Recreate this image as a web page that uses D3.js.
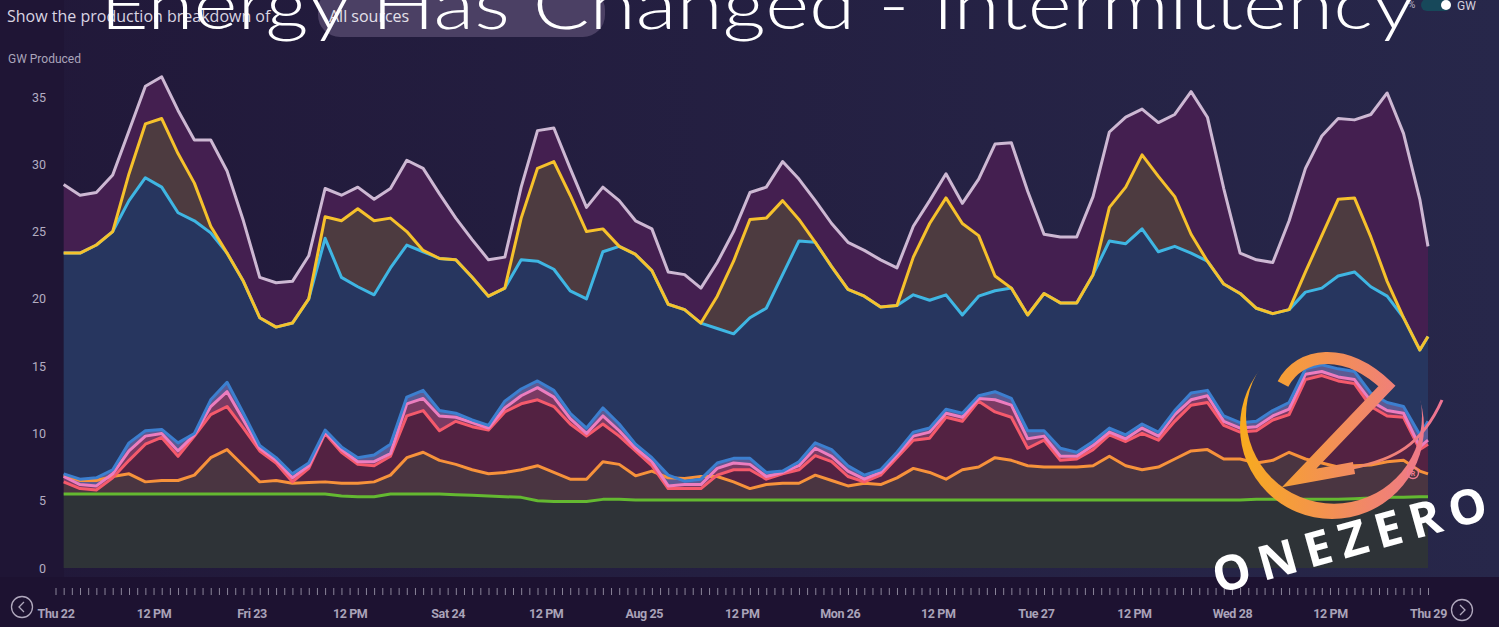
<!DOCTYPE html>
<html>
<head>
<meta charset="utf-8">
<title>Energy Has Changed - Intermittency</title>
<script src="https://d3js.org/d3.v7.min.js"></script>
<style>
  body { margin: 0; background: #1f1637; overflow: hidden; }
  svg { display: block; }
  .axis text { font-family: "Liberation Sans Narrow", "Roboto", sans-serif; font-weight: 700; }
  .axis path.domain { display: none; }
</style>
</head>
<body>
<svg width="1499" height="627"></svg>
<script>
var width = 1499, height = 627;

// hourly production, one reading every two hours from Thu 22 01:00, last point Thu 29 00:00
var start = new Date(2019, 7, 22, 0);
var end = new Date(2019, 7, 29, 0);
var hours = d3.range(1, 168, 2).concat([168]);

// stacked levels (GW), bottom to top
var levelGreen = [
  5.5, 5.5, 5.5, 5.5, 5.5, 5.5, 5.5, 5.5, 5.5, 5.5, 5.5, 5.5, 5.5, 5.5, 5.5, 5.5, 5.5,
  5.35, 5.3, 5.3, 5.5, 5.5, 5.5, 5.5, 5.45, 5.4, 5.35, 5.3, 5.25, 5.0, 4.95, 4.95, 4.95, 5.1,
  5.1, 5.05, 5.05, 5.05, 5.05, 5.05, 5.05, 5.05, 5.05, 5.05, 5.05, 5.05, 5.05, 5.05, 5.05, 5.05, 5.05,
  5.05, 5.05, 5.05, 5.05, 5.05, 5.05, 5.05, 5.05, 5.05, 5.05, 5.05, 5.05, 5.05, 5.05, 5.05, 5.05, 5.05,
  5.05, 5.05, 5.05, 5.05, 5.05, 5.1, 5.1, 5.1, 5.1, 5.1, 5.1, 5.15, 5.2, 5.25, 5.25, 5.3, 5.3
];
var levelOrange = [
  6.9, 6.5, 6.5, 6.8, 7.0, 6.4, 6.5, 6.5, 6.9, 8.2, 8.8, 7.6, 6.4, 6.5, 6.3, 6.35, 6.4,
  6.3, 6.3, 6.4, 6.9, 8.2, 8.6, 8.0, 7.7, 7.3, 7.0, 7.1, 7.3, 7.6, 7.1, 6.6, 6.6, 7.9,
  7.7, 6.85, 7.2, 6.7, 6.65, 6.8, 6.8, 6.4, 5.9, 6.2, 6.3, 6.3, 6.9, 6.5, 6.1, 6.3, 6.2,
  6.7, 7.4, 7.1, 6.6, 7.3, 7.5, 8.2, 8.0, 7.6, 7.5, 7.5, 7.5, 7.6, 8.3, 7.6, 7.3, 7.5,
  8.1, 8.7, 8.8, 8.1, 8.1, 7.8, 8.0, 8.6, 8.1, 7.8, 7.5, 7.6, 7.65, 7.9, 8.0, 7.2, 7.0
];
var levelRed = [
  6.4, 5.9, 5.8, 6.7, 8.0, 9.2, 9.7, 8.3, 9.8, 11.4, 12.0, 10.4, 8.7, 7.8, 6.4, 7.4, 10.0,
  8.6, 7.7, 7.6, 8.3, 11.3, 11.7, 10.2, 10.9, 10.5, 10.25, 11.6, 12.2, 12.5, 12.0, 10.7, 9.8, 10.7,
  9.8, 8.7, 7.6, 5.9, 5.9, 5.9, 6.9, 7.3, 7.3, 6.6, 7.0, 7.3, 8.35, 7.9, 6.8, 6.4, 6.9,
  8.2, 9.5, 9.65, 11.2, 10.9, 12.4, 11.6, 11.2, 8.9, 9.5, 8.0, 8.1, 8.8, 9.9, 9.4, 10.0, 9.5,
  10.9, 12.1, 12.3, 10.6, 10.1, 10.2, 11.0, 11.4, 14.0, 14.3, 13.9, 13.7, 12.0, 11.3, 11.2, 8.8, 9.2
];
var levelPink = [
  6.8, 6.2, 6.1, 7.0, 8.7, 9.8, 10.0, 8.7, 9.9, 12.0, 13.1, 11.0, 8.9, 8.0, 6.7, 7.6, 10.1,
  8.8, 7.9, 7.9, 8.5, 12.2, 12.6, 11.3, 11.2, 10.8, 10.4, 11.9, 12.8, 13.4, 12.7, 11.1, 10.0, 11.3,
  10.2, 8.9, 7.9, 6.1, 6.2, 6.2, 7.4, 7.8, 7.7, 6.8, 7.1, 7.6, 8.9, 8.3, 7.2, 6.6, 7.1,
  8.4, 9.8, 10.1, 11.5, 11.2, 12.6, 12.5, 12.1, 9.6, 9.8, 8.3, 8.3, 9.1, 10.1, 9.6, 10.4, 9.8,
  11.4, 12.5, 12.8, 10.9, 10.4, 10.5, 11.3, 11.8, 14.4, 14.6, 14.2, 14.0, 12.4, 11.7, 11.5, 9.0, 9.5
];
var levelBlue = [
  7.0, 6.6, 6.7, 7.3, 9.3, 10.2, 10.3, 9.3, 10.0, 12.5, 13.8, 11.5, 9.1, 8.2, 7.0, 7.8, 10.25,
  9.0, 8.2, 8.4, 9.2, 12.7, 13.2, 11.7, 11.5, 11.0, 10.6, 12.4, 13.3, 13.9, 13.2, 11.5, 10.4, 11.9,
  10.7, 9.2, 8.2, 6.9, 6.45, 6.6, 7.8, 8.15, 8.15, 7.1, 7.2, 7.9, 9.3, 8.8, 7.6, 6.9, 7.3,
  8.6, 10.1, 10.4, 11.8, 11.5, 12.8, 13.1, 12.6, 10.2, 10.2, 8.9, 8.6, 9.4, 10.4, 9.9, 10.7, 10.1,
  11.7, 13.0, 13.2, 11.3, 10.8, 10.9, 11.7, 12.3, 14.8, 15.1, 14.8, 14.6, 13.0, 12.3, 12.0, 9.9, 10.9
];
var levelCyan = [
  23.4, 23.4, 24.0, 25.0, 27.3, 29.0, 28.3, 26.4, 25.8, 24.9, 23.4, 21.3, 18.6, 17.9, 18.2, 20.0, 24.5,
  21.6, 20.9, 20.3, 22.3, 24.0, 23.5, 23.0, 22.9, 21.6, 20.2, 20.8, 22.9, 22.8, 22.2, 20.6, 20.0, 23.5,
  23.9, 23.3, 22.1, 19.6, 19.2, 18.2, 17.8, 17.4, 18.6, 19.3, 21.8, 24.3, 24.2, 22.4, 20.7, 20.2, 19.4,
  19.5, 20.3, 19.9, 20.3, 18.8, 20.2, 20.6, 20.8, 18.8, 20.4, 19.7, 19.7, 21.8, 24.3, 24.1, 25.2, 23.5,
  23.9, 23.4, 22.8, 21.1, 20.4, 19.3, 18.9, 19.2, 20.5, 20.8, 21.7, 22.0, 20.9, 20.2, 18.6, 16.2, 17.2
];
var levelYellow = [
  23.4, 23.4, 24.0, 25.0, 29.3, 33.0, 33.4, 30.8, 28.6, 25.4, 23.4, 21.3, 18.6, 17.9, 18.2, 20.0, 26.1,
  25.8, 26.7, 25.8, 26.0, 25.0, 23.6, 23.0, 22.9, 21.6, 20.2, 20.8, 26.0, 29.7, 30.2, 27.7, 25.0, 25.2,
  23.9, 23.3, 22.1, 19.6, 19.2, 18.2, 20.2, 22.8, 25.9, 26.0, 27.3, 25.9, 24.2, 22.4, 20.7, 20.2, 19.4,
  19.5, 23.1, 25.6, 27.5, 25.6, 24.7, 21.7, 20.8, 18.8, 20.4, 19.7, 19.7, 21.8, 26.8, 28.3, 30.7, 29.1,
  27.6, 24.8, 22.8, 21.1, 20.4, 19.3, 18.9, 19.2, 22.0, 24.7, 27.4, 27.5, 24.6, 21.3, 18.6, 16.2, 17.2
];
var levelTotal = [
  28.5, 27.7, 27.9, 29.2, 32.5, 35.8, 36.5, 34.0, 31.8, 31.8, 29.5, 25.8, 21.6, 21.2, 21.3, 23.2, 28.2,
  27.7, 28.3, 27.4, 28.2, 30.3, 29.7, 27.8, 26.0, 24.4, 22.9, 23.1, 28.3, 32.5, 32.7, 29.7, 26.8, 28.3,
  27.3, 25.8, 25.2, 22.0, 21.8, 20.8, 22.7, 25.0, 27.9, 28.3, 30.2, 28.9, 27.3, 25.6, 24.2, 23.6, 22.9,
  22.3, 25.4, 27.3, 29.3, 27.1, 28.9, 31.5, 31.6, 28.0, 24.8, 24.6, 24.6, 27.6, 32.4, 33.5, 34.1, 33.1,
  33.7, 35.4, 33.5, 28.2, 23.4, 22.9, 22.7, 25.8, 29.7, 32.1, 33.4, 33.3, 33.7, 35.3, 32.3, 27.4, 23.9
];

var yTicks = [0, 5, 10, 15, 20, 25, 30, 35];

var layers = [
  {values: levelGreen,  line: "#64b931", fill: "#2e3337"},
  {values: levelOrange, line: "#f7923b", fill: "#4a3541"},
  {values: levelRed,    line: "#f55a6c", fill: "#532242"},
  {values: levelPink,   line: "#ec7dbf", fill: "#7a3a63"},
  {values: levelBlue,   line: "#3c7fcf", fill: "#5b5a93"},
  {values: levelCyan,   line: "#3fb6e3", fill: "#27365f"},
  {values: levelYellow, line: "#f6c12c", fill: "#4d3b40"},
  {values: levelTotal,  line: "#cdb8d3", fill: "#441f50"}
];

var times = hours.map(function(h) { return d3.timeHour.offset(start, h); });

var x = d3.scaleTime().domain([start, end]).range([55.5, 1428]);
var y = d3.scaleLinear().domain([0, 35]).range([568, 97]);

var svg = d3.select('svg');
var defs = svg.append('defs');

var bgGrad = defs.append('linearGradient').attr('id', 'bg');
bgGrad.append('stop').attr('offset', 0).attr('stop-color', '#211839');
bgGrad.append('stop').attr('offset', 1).attr('stop-color', '#27274a');

var logoGrad = defs.append('linearGradient').attr('id', 'logo')
  .attr('gradientUnits', 'userSpaceOnUse')
  .attr('x1', 1240).attr('x2', 1445).attr('y1', 0).attr('y2', 0);
logoGrad.append('stop').attr('offset', 0).attr('stop-color', '#f8ab1e');
logoGrad.append('stop').attr('offset', 0.5).attr('stop-color', '#f28d5a');
logoGrad.append('stop').attr('offset', 1).attr('stop-color', '#ee7396');

// backgrounds
svg.append('rect').attr('width', width).attr('height', height).attr('fill', 'url(#bg)');
svg.append('rect').attr('x', 0).attr('y', 0).attr('width', 64).attr('height', height).attr('fill', '#1f1535');
svg.append('rect').attr('x', 0).attr('y', 577).attr('width', width).attr('height', 50).attr('fill', '#1d1231');

// areas between consecutive levels
var idx = d3.range(times.length);
layers.forEach(function(layer, k) {
  var below = k === 0 ? null : layers[k - 1].values;
  var area = d3.area()
    .x(function(i) { return x(times[i]); })
    .y0(function(i) { return below ? y(below[i]) : y(0); })
    .y1(function(i) { return y(layer.values[i]); });
  svg.append('path').datum(idx).attr('d', area).attr('fill', layer.fill);
});

layers.forEach(function(layer) {
  var line = d3.line()
    .x(function(i) { return x(times[i]); })
    .y(function(i) { return y(layer.values[i]); });
  svg.append('path').datum(idx)
    .attr('d', line)
    .attr('fill', 'none')
    .attr('stroke', layer.line)
    .attr('stroke-width', 3)
    .attr('stroke-linejoin', 'round');
});

// y axis
var yAxis = svg.append('g').attr('class', 'axis')
  .attr('transform', 'translate(50,0)')
  .call(d3.axisLeft(y).tickValues(yTicks).tickSize(0).tickPadding(4));
yAxis.selectAll('text').attr('fill', '#b3adc2').style('font-size', '12.5px').style('font-weight', 400);

svg.append('text').attr('x', 8).attr('y', 63)
  .attr('fill', '#aaa4ba')
  .style('font-family', '"Liberation Sans Narrow", Roboto, sans-serif')
  .style('font-size', '12px')
  .text('GW Produced');

// hourly ticks and day labels
var hourAxis = svg.append('g').attr('class', 'axis')
  .attr('transform', 'translate(0,588)')
  .call(d3.axisBottom(x).ticks(d3.timeHour.every(1)).tickSize(7).tickFormat(''));
hourAxis.selectAll('line').attr('stroke', '#8a8499');

var dayAxis = svg.append('g').attr('class', 'axis')
  .attr('transform', 'translate(0,606)')
  .call(d3.axisBottom(x).ticks(d3.timeHour.every(12)).tickSize(0));
dayAxis.selectAll('text').attr('fill', '#aaa3b9').style('font-size', '12.5px').attr('letter-spacing', '-0.4');

// scroll arrows
[[22, 607, -1], [1462, 610, 1]].forEach(function(a) {
  svg.append('circle').attr('cx', a[0]).attr('cy', a[1]).attr('r', 10.5)
    .attr('fill', 'none').attr('stroke', '#b0a8bd').attr('stroke-width', 1.3);
  svg.append('path')
    .attr('d', 'M' + (a[0] - 2 * a[2]) + ',' + (a[1] - 5) + 'L' + (a[0] + 3 * a[2]) + ',' + a[1] + 'L' + (a[0] - 2 * a[2]) + ',' + (a[1] + 5))
    .attr('fill', 'none').attr('stroke', '#b0a8bd').attr('stroke-width', 1.3);
});

// header controls
svg.append('text').attr('x', 7).attr('y', 22)
  .attr('fill', '#d9d4e2')
  .style('font-family', '"Open Sans", sans-serif')
  .style('font-size', '16px')
  .text('Show the production breakdown of');
svg.append('rect').attr('x', 318).attr('y', -12).attr('width', 287).attr('height', 49).attr('rx', 22)
  .attr('fill', '#4b4064');
svg.append('text').attr('x', 329).attr('y', 22)
  .attr('fill', '#e4e0ea')
  .style('font-family', '"Open Sans", sans-serif')
  .style('font-size', '16px')
  .text('All sources');

svg.append('text').attr('x', 1408).attr('y', 8)
  .attr('fill', '#b9b3c6').style('font-family', 'Roboto, sans-serif').style('font-size', '10px').text('%');
svg.append('rect').attr('x', 1421).attr('y', -1).attr('width', 30).attr('height', 12).attr('rx', 6).attr('fill', '#17485a');
svg.append('circle').attr('cx', 1446).attr('cy', 5).attr('r', 5).attr('fill', '#ffffff');
svg.append('text').attr('x', 1457).attr('y', 10)
  .attr('fill', '#d6d1de').style('font-family', '"Liberation Sans Narrow", Roboto, sans-serif').style('font-size', '12px').text('GW');

// title
svg.append('text')
  .attr('x', 100).attr('y', 29)
  .attr('textLength', 1315)
  .attr('lengthAdjust', 'spacingAndGlyphs')
  .attr('fill', '#ffffff')
  .style('font-family', 'Lato, "Open Sans", sans-serif')
  .style('font-weight', 300)
  .style('font-size', '68px')
  .text('Energy Has Changed - Intermittency');

// OneZero watermark
var mask = defs.append('mask').attr('id', 'crescent');
mask.append('circle').attr('cx', 1332).attr('cy', 427).attr('r', 92).attr('fill', '#fff');
mask.append('circle').attr('cx', 1334).attr('cy', 415.8).attr('r', 88).attr('fill', '#000');
svg.append('rect').attr('x', 1230).attr('y', 325).attr('width', 215).attr('height', 200)
  .attr('fill', 'url(#logo)').attr('mask', 'url(#crescent)');
svg.append('path')
  .attr('d', 'M1283,384 C1300,352 1345,346 1387,386 L1299,478 L1354,468')
  .attr('fill', 'none').attr('stroke', 'url(#logo)').attr('stroke-width', 12)
  .attr('stroke-linejoin', 'miter');
svg.append('path')
  .attr('d', 'M1352,468 C1394,460 1422,445 1442,400')
  .attr('fill', 'none').attr('stroke', 'url(#logo)').attr('stroke-width', 3);
svg.append('circle').attr('cx', 1413).attr('cy', 473).attr('r', 5.5)
  .attr('fill', 'none').attr('stroke', '#ef7b8e').attr('stroke-width', 1.4);
svg.append('text').attr('x', 1413).attr('y', 476).attr('text-anchor', 'middle')
  .attr('fill', '#ef7b8e').style('font-family', 'Roboto, sans-serif').style('font-size', '7px').style('font-weight', 700).text('R');
svg.append('text')
  .attr('transform', 'translate(1354,556) rotate(-15.5)')
  .attr('text-anchor', 'middle')
  .attr('textLength', 283)
  .attr('lengthAdjust', 'spacing')
  .attr('fill', '#ffffff')
  .style('font-family', '"Open Sans", sans-serif')
  .style('font-weight', 700)
  .style('font-size', '48px')
  .text('ONEZERO');
</script>
</body>
</html>
